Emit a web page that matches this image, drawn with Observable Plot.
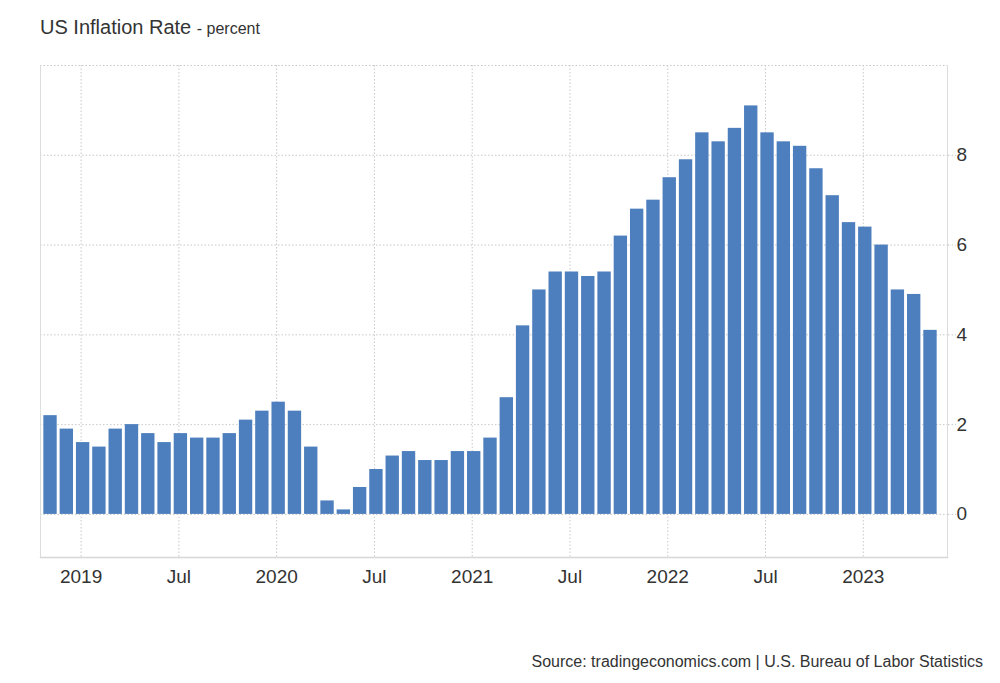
<!DOCTYPE html>
<html>
<head>
<meta charset="utf-8">
<script src="https://cdn.jsdelivr.net/npm/d3@7"></script>
<script src="https://cdn.jsdelivr.net/npm/@observablehq/plot@0.6"></script>
<style>
  html, body { margin: 0; padding: 0; background: #fff; }
  body { width: 1000px; height: 683px; position: relative; overflow: hidden;
         font-family: "Liberation Sans", Arial, Helvetica, sans-serif; color: #333; }
  #title { position: absolute; left: 40px; top: 16px; font-size: 20px; color: #333; white-space: nowrap; }
  #title span { font-size: 16px; }
  #chart { position: absolute; left: 0; top: 50px; }
  #source { position: absolute; right: 17px; top: 653px; font-size: 16px; color: #333; white-space: nowrap; }
</style>
</head>
<body>
<div id="title">US Inflation Rate <span>- percent</span></div>
<div id="chart"></div>
<div id="source">Source: tradingeconomics.com | U.S. Bureau of Labor Statistics</div>
<script>
// Months (Nov 2018 – May 2023)
const months = [
  "2018-11","2018-12",
  "2019-01","2019-02","2019-03","2019-04","2019-05","2019-06","2019-07","2019-08","2019-09","2019-10","2019-11","2019-12",
  "2020-01","2020-02","2020-03","2020-04","2020-05","2020-06","2020-07","2020-08","2020-09","2020-10","2020-11","2020-12",
  "2021-01","2021-02","2021-03","2021-04","2021-05","2021-06","2021-07","2021-08","2021-09","2021-10","2021-11","2021-12",
  "2022-01","2022-02","2022-03","2022-04","2022-05","2022-06","2022-07","2022-08","2022-09","2022-10","2022-11","2022-12",
  "2023-01","2023-02","2023-03","2023-04","2023-05"
];
// Inflation rate, percent
const rates = [
  2.2, 1.9,
  1.6, 1.5, 1.9, 2.0, 1.8, 1.6, 1.8, 1.7, 1.7, 1.8, 2.1, 2.3,
  2.5, 2.3, 1.5, 0.3, 0.1, 0.6, 1.0, 1.3, 1.4, 1.2, 1.2, 1.4,
  1.4, 1.7, 2.6, 4.2, 5.0, 5.4, 5.4, 5.3, 5.4, 6.2, 6.8, 7.0,
  7.5, 7.9, 8.5, 8.3, 8.6, 9.1, 8.5, 8.3, 8.2, 7.7, 7.1, 6.5,
  6.4, 6.0, 5.0, 4.9, 4.1
];
// Labelled x ticks
const xTicks = ["2019-01","2019-07","2020-01","2020-07","2021-01","2021-07","2022-01","2022-07","2023-01"];
const yTicks = [0, 2, 4, 6, 8];

const data = months.map((m, i) => ({month: m, rate: rates[i]}));
const fmtX = m => m.endsWith("-01") ? m.slice(0, 4) : "Jul";

const chart = Plot.plot({
  width: 1000,
  height: 557,
  marginTop: 15,
  marginBottom: 50,
  marginLeft: 40,
  marginRight: 53,
  style: {fontFamily: "'Liberation Sans', Arial, Helvetica, sans-serif", color: "#333", background: "#fff"},
  x: {type: "band", domain: months, range: [40.4, 939.6], padding: 0.18, round: false},
  y: {domain: [-0.96, 10]},
  marks: [
    Plot.gridY([...yTicks, 10], {stroke: "#c8c8c8", strokeOpacity: 1, strokeDasharray: "1.5,2"}),
    Plot.gridX(xTicks, {stroke: "#c8c8c8", strokeOpacity: 1, strokeDasharray: "1.5,2", dx: -2}),
    Plot.frame({anchor: "left", stroke: "#dcdcdc"}),
    Plot.frame({anchor: "right", stroke: "#dcdcdc"}),
    Plot.frame({anchor: "bottom", stroke: "#d6d6d6", strokeWidth: 1.5}),
    Plot.barY(data, {x: "month", y: "rate", fill: "#4d7fbe"}),
    Plot.axisX(xTicks, {tickSize: 0, tickPadding: 12, tickFormat: fmtX, fontSize: 19, label: null, dx: -2}),
    Plot.axisY(yTicks, {anchor: "right", tickSize: 8, tickPadding: 1, fontSize: 19, label: null,
                        stroke: "#c8c8c8", strokeDasharray: "1.5,2"})
  ]
});
document.getElementById("chart").appendChild(chart);
</script>
</body>
</html>
